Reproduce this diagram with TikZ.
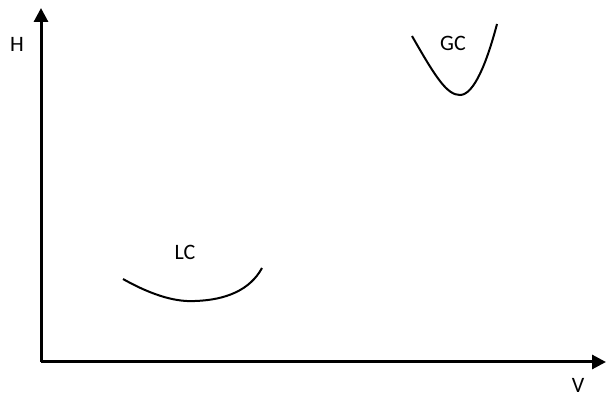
\documentclass[tikz,border=0pt]{standalone}
\usepackage{fontspec}
\setmainfont{Carlito}
\usetikzlibrary{arrows.meta, positioning}

\begin{document}
\begin{tikzpicture}[x=1pt, y=-1pt,
		axis/.style={
			line width=3pt,
			-{Triangle[length=14pt, width=14pt]}
		},
		curve/.style={line width=2pt, black},
		lbl/.style={font=\fontsize{22}{26}\selectfont, inner sep=0pt}]

		\useasboundingbox (0,0) rectangle (606,398);

		\coordinate (origin) at (41,362);
		\coordinate (htop) at (41,8);
		\coordinate (vend) at (606,362);

		\draw [axis] (origin) -- (htop);
		\draw [axis] (origin) -- (vend);

		\node [lbl] (hlabel) at (17,44) {H};
		\node [lbl] (vlabel) at (578,385) {V};

		% gas curve
		\draw [curve] (412,36) .. controls (436,78) and (447,95) .. (460,95)
			.. controls (474,95) and (487,62) .. (497,24);
		\node [lbl] (gc) at (453,43) {GC};

		% liquid curve
		\draw [curve] (123,279) .. controls (155,297) and (178,302) .. (195,301)
			.. controls (226,300) and (250,290) .. (262,268);
		\node [lbl] (lc) at (185,252) {LC};
	\end{tikzpicture}
\end{document}
